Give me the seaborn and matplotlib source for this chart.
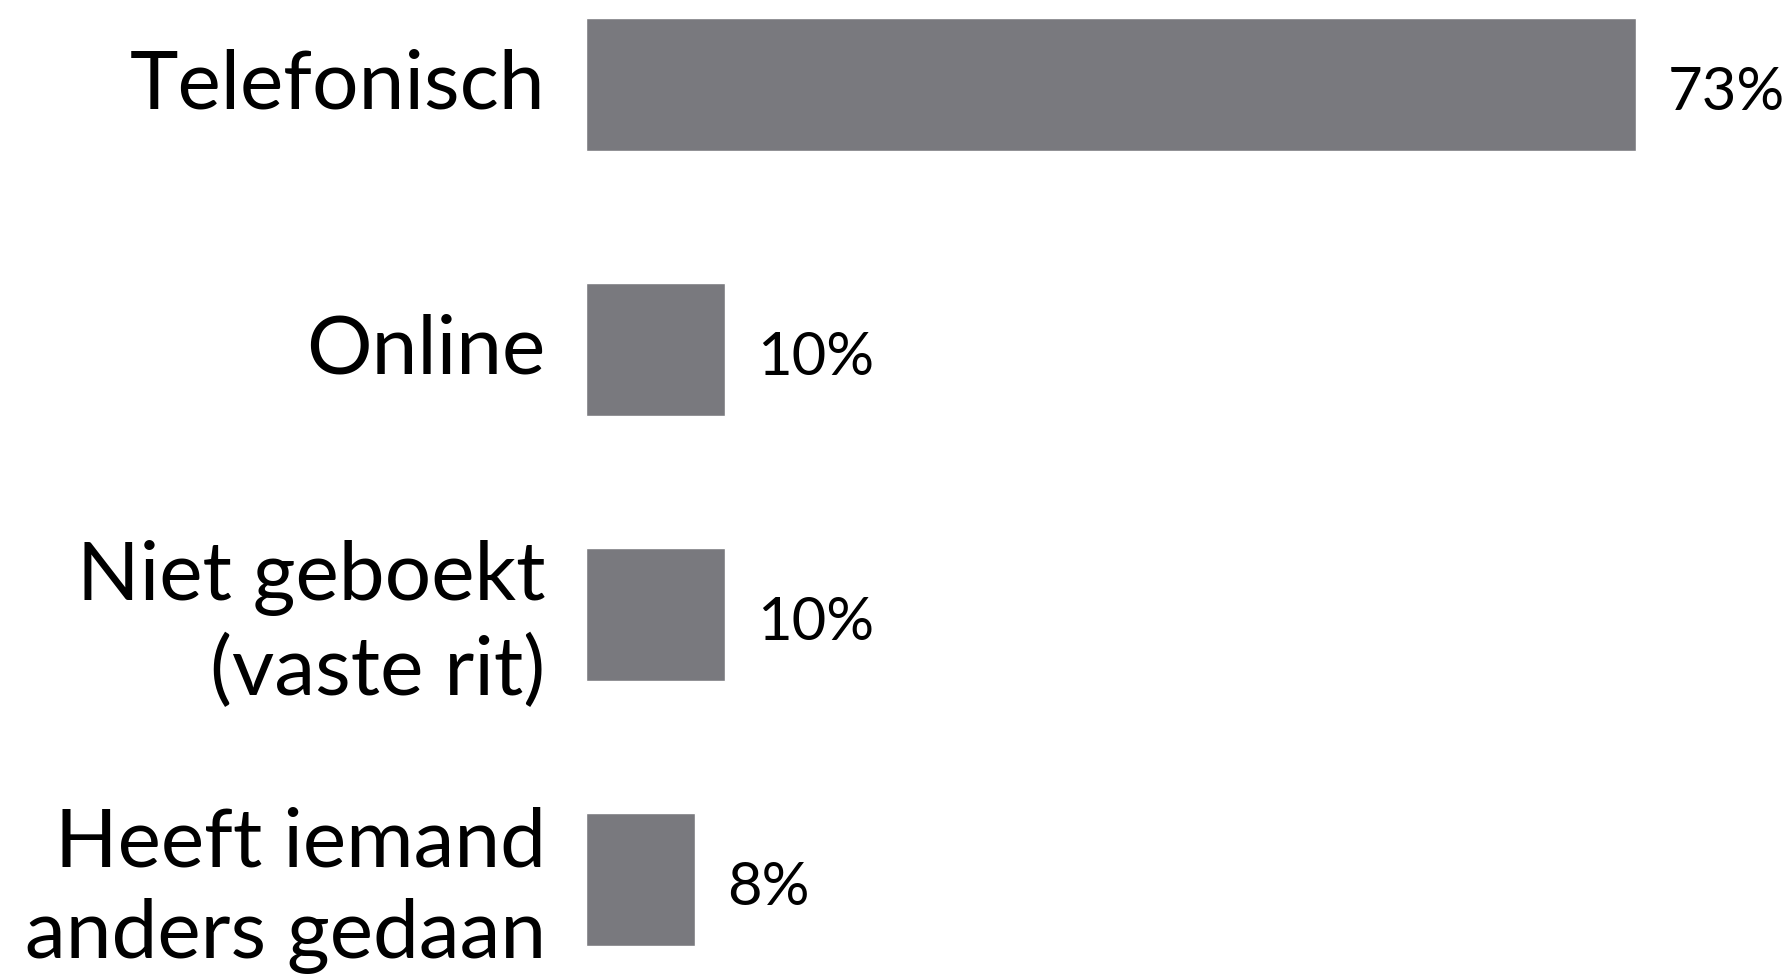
import pandas as pd
import matplotlib
matplotlib.use("Agg")
import matplotlib.pyplot as plt
import matplotlib.transforms as mtransforms
import seaborn as sns

# data
categories = ["Telefonisch", "Online", "Niet geboekt\n(vaste rit)", "Heeft iemand\nanders gedaan"]
shares = [73.0, 9.7, 9.7, 7.6]

BAR_COLOR = "#79797e"

sns.set_style("white")
plt.rcParams["font.family"] = ["Lato", "DejaVu Sans"]

df = pd.DataFrame({"categorie": categories, "aandeel": shares})

fig = plt.figure(figsize=(17.91, 9.76), dpi=100)
# axes placed so bars land where they do in the reference
ax = fig.add_axes([586 / 1791, -36 / 976, 1205 / 1791, 1060 / 976])

sns.barplot(data=df, x="aandeel", y="categorie", orient="h", color=BAR_COLOR,
            saturation=1, width=0.5, ax=ax)

ax.set_xlim(0, 1205 / 14.38)
ax.set_ylim(3.5, -0.5)
ax.set_xlabel("")
ax.set_ylabel("")
ax.set_xticks([])
sns.despine(ax=ax, left=True, bottom=True)

ax.tick_params(axis="y", length=0, pad=29, labelsize=59, labelcolor="black")
lift = mtransforms.ScaledTranslation(0, 4 / 72, fig.dpi_scale_trans)
for lbl in ax.get_yticklabels():
    lbl.set_linespacing(1.28)
    lbl.set_transform(lbl.get_transform() + lift)

for cont in ax.containers:
    texts = ax.bar_label(cont, labels=[f"{v:.0f}%" for v in shares], padding=23,
                         fontsize=43, color="black")
    for t in texts:
        t.xyann = (t.xyann[0], t.xyann[1] - 6)

fig.savefig("out.png", dpi=100)
